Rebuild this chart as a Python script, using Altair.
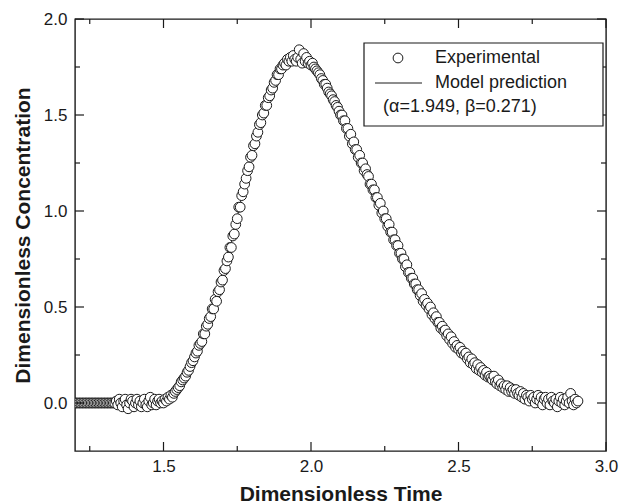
import altair as alt
import pandas as pd

# ---------------- data ----------------
time = [
    1.200,
    1.205, 1.210, 1.215, 1.220, 1.225, 1.230, 1.235, 1.240, 1.245, 1.250, 1.255, 1.260, 1.265, 1.270, 1.275, 1.280, 1.285, 1.290, 1.295, 1.300,
    1.305, 1.310, 1.315, 1.320, 1.325, 1.330, 1.335, 1.340, 1.345, 1.350, 1.355, 1.360, 1.365, 1.370, 1.375, 1.380, 1.385, 1.390, 1.395, 1.400,
    1.405, 1.410, 1.415, 1.420, 1.425, 1.430, 1.435, 1.440, 1.445, 1.450, 1.455, 1.460, 1.465, 1.470, 1.475, 1.480, 1.485, 1.490, 1.495, 1.500,
    1.505, 1.510, 1.515, 1.520, 1.525, 1.530, 1.535, 1.540, 1.545, 1.550, 1.555, 1.560, 1.565, 1.570, 1.575, 1.580, 1.585, 1.590, 1.595, 1.600,
    1.605, 1.610, 1.615, 1.620, 1.625, 1.630, 1.635, 1.640, 1.645, 1.650, 1.655, 1.660, 1.665, 1.670, 1.675, 1.680, 1.685, 1.690, 1.695, 1.700,
    1.705, 1.710, 1.715, 1.720, 1.725, 1.730, 1.735, 1.740, 1.745, 1.750, 1.755, 1.760, 1.765, 1.770, 1.775, 1.780, 1.785, 1.790, 1.795, 1.800,
    1.805, 1.810, 1.815, 1.820, 1.825, 1.830, 1.835, 1.840, 1.845, 1.850, 1.855, 1.860, 1.865, 1.870, 1.875, 1.880, 1.885, 1.890, 1.895, 1.900,
    1.905, 1.910, 1.915, 1.920, 1.925, 1.930, 1.935, 1.940, 1.945, 1.950, 1.955, 1.960, 1.965, 1.970, 1.975, 1.980, 1.985, 1.990, 1.995, 2.000,
    2.005, 2.010, 2.015, 2.020, 2.025, 2.030, 2.035, 2.040, 2.045, 2.050, 2.055, 2.060, 2.065, 2.070, 2.075, 2.080, 2.085, 2.090, 2.095, 2.100,
    2.105, 2.110, 2.115, 2.120, 2.125, 2.130, 2.135, 2.140, 2.145, 2.150, 2.155, 2.160, 2.165, 2.170, 2.175, 2.180, 2.185, 2.190, 2.195, 2.200,
    2.205, 2.210, 2.215, 2.220, 2.225, 2.230, 2.235, 2.240, 2.245, 2.250, 2.255, 2.260, 2.265, 2.270, 2.275, 2.280, 2.285, 2.290, 2.295, 2.300,
    2.305, 2.310, 2.315, 2.320, 2.325, 2.330, 2.335, 2.340, 2.345, 2.350, 2.355, 2.360, 2.365, 2.370, 2.375, 2.380, 2.385, 2.390, 2.395, 2.400,
    2.405, 2.410, 2.415, 2.420, 2.425, 2.430, 2.435, 2.440, 2.445, 2.450, 2.455, 2.460, 2.465, 2.470, 2.475, 2.480, 2.485, 2.490, 2.495, 2.500,
    2.505, 2.510, 2.515, 2.520, 2.525, 2.530, 2.535, 2.540, 2.545, 2.550, 2.555, 2.560, 2.565, 2.570, 2.575, 2.580, 2.585, 2.590, 2.595, 2.600,
    2.605, 2.610, 2.615, 2.620, 2.625, 2.630, 2.635, 2.640, 2.645, 2.650, 2.655, 2.660, 2.665, 2.670, 2.675, 2.680, 2.685, 2.690, 2.695, 2.700,
    2.705, 2.710, 2.715, 2.720, 2.725, 2.730, 2.735, 2.740, 2.745, 2.750, 2.755, 2.760, 2.765, 2.770, 2.775, 2.780, 2.785, 2.790, 2.795, 2.800,
    2.805, 2.810, 2.815, 2.820, 2.825, 2.830, 2.835, 2.840, 2.845, 2.850, 2.855, 2.860, 2.865, 2.870, 2.875, 2.880, 2.885, 2.890, 2.895, 2.900,
    2.905,
]

conc = [
    0.00,
    0.00, 0.00, 0.00, 0.00, 0.00, 0.00, 0.00, 0.00, 0.00, 0.00, 0.00, 0.00, 0.00, 0.00, 0.00, 0.00, 0.00, 0.00, 0.00, 0.00,
    0.00, 0.00, 0.00, 0.00, 0.00, 0.00, 0.00, 0.01, -0.01, 0.02, 0.00, -0.02, 0.01, 0.02, -0.01, -0.03, 0.00, 0.02, 0.01, -0.02,
    0.00, 0.02, -0.01, 0.01, -0.02, 0.00, 0.02, -0.01, -0.02, 0.01, 0.03, -0.01, 0.00, 0.02, -0.01, 0.01, 0.02, 0.00, 0.01, 0.00,
    0.02, 0.01, 0.03, 0.02, 0.04, 0.03, 0.05, 0.06, 0.07, 0.08, 0.09, 0.11, 0.12, 0.13, 0.14, 0.16, 0.17, 0.19, 0.21, 0.22,
    0.24, 0.26, 0.27, 0.30, 0.31, 0.32, 0.36, 0.36, 0.40, 0.41, 0.44, 0.45, 0.49, 0.49, 0.54, 0.53, 0.58, 0.59, 0.63, 0.64,
    0.69, 0.70, 0.74, 0.76, 0.81, 0.81, 0.87, 0.88, 0.93, 0.96, 1.02, 1.02, 1.08, 1.10, 1.14, 1.17, 1.21, 1.23, 1.28, 1.29,
    1.34, 1.35, 1.39, 1.41, 1.45, 1.46, 1.50, 1.51, 1.55, 1.55, 1.59, 1.60, 1.63, 1.64, 1.67, 1.68, 1.71, 1.71, 1.74, 1.74,
    1.76, 1.77, 1.76, 1.79, 1.78, 1.80, 1.78, 1.81, 1.79, 1.78, 1.80, 1.84, 1.79, 1.77, 1.82, 1.78, 1.80, 1.77, 1.78, 1.76,
    1.77, 1.75, 1.74, 1.73, 1.72, 1.71, 1.69, 1.68, 1.66, 1.66, 1.64, 1.62, 1.61, 1.60, 1.58, 1.57, 1.55, 1.54, 1.52, 1.50,
    1.50, 1.47, 1.47, 1.43, 1.43, 1.39, 1.40, 1.35, 1.36, 1.32, 1.32, 1.28, 1.29, 1.25, 1.25, 1.21, 1.22, 1.19, 1.18, 1.14,
    1.14, 1.11, 1.11, 1.07, 1.07, 1.03, 1.04, 0.99, 1.00, 0.96, 0.96, 0.92, 0.93, 0.89, 0.89, 0.85, 0.85, 0.82, 0.82, 0.78,
    0.78, 0.75, 0.75, 0.71, 0.72, 0.68, 0.68, 0.65, 0.65, 0.62, 0.62, 0.59, 0.59, 0.56, 0.57, 0.53, 0.54, 0.51, 0.52, 0.49,
    0.50, 0.46, 0.47, 0.44, 0.45, 0.42, 0.42, 0.39, 0.40, 0.375, 0.38, 0.35, 0.36, 0.33, 0.345, 0.31, 0.32, 0.29, 0.30, 0.28,
    0.29, 0.26, 0.27, 0.25, 0.26, 0.23, 0.24, 0.21, 0.23, 0.20, 0.21, 0.18, 0.20, 0.17, 0.185, 0.16, 0.17, 0.145, 0.16, 0.135,
    0.14, 0.13, 0.12, 0.14, 0.11, 0.10, 0.12, 0.09, 0.10, 0.08, 0.09, 0.07, 0.09, 0.06, 0.08, 0.06, 0.07, 0.05, 0.07, 0.05,
    0.04, 0.06, 0.03, 0.05, 0.02, 0.04, 0.03, 0.01, 0.04, 0.02, 0.03, 0.00, 0.02, 0.04, 0.01, 0.03, -0.01, 0.02, 0.03, 0.00,
    0.02, -0.01, 0.03, 0.01, 0.00, 0.02, -0.02, 0.01, 0.03, 0.00, 0.02, -0.01, 0.01, 0.03, 0.00, 0.05, 0.01, -0.01, 0.02, 0.00,
    0.01,
]

model_time = [1.200, 1.250, 1.300, 1.350, 1.400, 1.425, 1.450, 1.475, 1.500, 1.525, 1.550, 1.575,
              1.600, 1.625, 1.650, 1.675, 1.700, 1.725, 1.750, 1.775, 1.800, 1.825, 1.850, 1.875,
              1.900, 1.925, 1.950, 1.975, 2.000, 2.025, 2.050, 2.075, 2.100, 2.125, 2.150, 2.175,
              2.200, 2.225, 2.250, 2.275, 2.300, 2.325, 2.350, 2.375, 2.400, 2.425, 2.450, 2.475,
              2.500, 2.525, 2.550, 2.575, 2.600, 2.625, 2.650, 2.675, 2.700, 2.725, 2.750, 2.775,
              2.800, 2.825, 2.850, 2.875, 2.900]
model_conc = [0.0, 0.0, 0.0, 0.0, 0.002, 0.004, 0.008, 0.015, 0.025, 0.045, 0.08, 0.14,
              0.22, 0.31, 0.41, 0.52, 0.65, 0.80, 0.97, 1.14, 1.30, 1.44, 1.56, 1.66,
              1.74, 1.785, 1.80, 1.795, 1.77, 1.72, 1.66, 1.59, 1.51, 1.42, 1.33, 1.24,
              1.15, 1.06, 0.97, 0.88, 0.79, 0.71, 0.63, 0.56, 0.50, 0.44, 0.385, 0.335,
              0.29, 0.25, 0.21, 0.175, 0.145, 0.118, 0.095, 0.076, 0.060, 0.047, 0.037, 0.029,
              0.022, 0.017, 0.013, 0.010, 0.008]

x_major = [1.5, 2.0, 2.5, 3.0]
x_minor = [1.25, 1.75, 2.25, 2.75]
y_major = [0.0, 0.5, 1.0, 1.5, 2.0]
y_minor = [0.25, 0.75, 1.25, 1.75]
x_domain = [1.2, 3.0]
y_domain = [-0.25, 2.0]

legend_labels = ["Experimental", "Model prediction", "(\u03b1=1.949, \u03b2=0.271)"]
x_title = "Dimensionless Time"
y_title = "Dimensionless Concentration"

assert len(time) == len(conc)
assert len(model_time) == len(model_conc)

# ---------------- chart ----------------
W, H = 531, 432
FONT = "Liberation Sans"
INK = "#1a1a1a"

xscale = alt.Scale(domain=x_domain, nice=False, zero=False)
yscale = alt.Scale(domain=y_domain, nice=False, zero=False)

xaxis = alt.Axis(title=x_title, values=x_major, format=".1f", ticks=False, domain=False, grid=False,
                 labelFont=FONT, labelFontSize=17, labelColor=INK, labelPadding=7, labelFlush=False,
                 labelOverlap=False, titleFont=FONT, titleFontSize=21, titleFontWeight="bold",
                 titleColor=INK, titlePadding=9)
yaxis = alt.Axis(title=y_title, values=y_major, format=".1f", ticks=False, domain=False, grid=False,
                 labelFont=FONT, labelFontSize=17, labelColor=INK, labelPadding=8, labelFlush=False,
                 labelOverlap=False, titleFont=FONT, titleFontSize=21, titleFontWeight="bold",
                 titleColor=INK, titlePadding=10)

exp_df = pd.DataFrame({"t": time, "c": conc})
model_df = pd.DataFrame({"t": model_time, "c": model_conc})

line = alt.Chart(model_df).mark_line(color=INK, strokeWidth=1, clip=True).encode(
    x=alt.X("t:Q", scale=xscale, axis=xaxis),
    y=alt.Y("c:Q", scale=yscale, axis=yaxis),
)

points = alt.Chart(exp_df).mark_point(
    shape="circle", filled=True, fill="white", stroke=INK, strokeWidth=1.0,
    size=95, opacity=1, clip=True
).encode(
    x=alt.X("t:Q", scale=xscale),
    y=alt.Y("c:Q", scale=yscale),
)

MAJ, MIN = 9, 5


def xticks(vals, length, top):
    df = pd.DataFrame({"t": vals})
    if top:
        yy, yy2 = alt.value(0), alt.value(length)
    else:
        yy, yy2 = alt.value(H), alt.value(H - length)
    return alt.Chart(df).mark_rule(color=INK, strokeWidth=1.2).encode(
        x=alt.X("t:Q", scale=xscale), y=yy, y2=yy2)


def yticks(vals, length, right):
    df = pd.DataFrame({"c": vals})
    if right:
        xx, xx2 = alt.value(W), alt.value(W - length)
    else:
        xx, xx2 = alt.value(0), alt.value(length)
    return alt.Chart(df).mark_rule(color=INK, strokeWidth=1.2).encode(
        y=alt.Y("c:Q", scale=yscale), x=xx, x2=xx2)


ticks = [
    xticks(x_major, MAJ, False), xticks(x_minor, MIN, False),
    xticks(x_major, MAJ, True), xticks(x_minor, MIN, True),
    yticks(y_major, MAJ, False), yticks(y_minor, MIN, False),
    yticks(y_major, MAJ, True), yticks(y_minor, MIN, True),
]

# ---------------- legend (drawn by hand) ----------------
one = pd.DataFrame({"k": [0]})
leg_box = alt.Chart(one).mark_rect(fill="white", stroke=INK, strokeWidth=1.2).encode(
    x=alt.value(289), x2=alt.value(528), y=alt.value(24), y2=alt.value(107))
leg_pt = alt.Chart(one).mark_point(shape="circle", filled=True, fill="white", stroke=INK,
                                   strokeWidth=1.0, size=95, opacity=1).encode(
    x=alt.value(323), y=alt.value(39))
leg_line = alt.Chart(one).mark_rule(color=INK, strokeWidth=1).encode(
    x=alt.value(300), x2=alt.value(347), y=alt.value(64))


def leg_text(label, x, y):
    return alt.Chart(pd.DataFrame({"label": [label]})).mark_text(
        align="left", baseline="middle", font=FONT, fontSize=18, color=INK
    ).encode(x=alt.value(x), y=alt.value(y), text="label:N")


legend = [leg_box, leg_pt, leg_line,
          leg_text(legend_labels[0], 360, 39),
          leg_text(legend_labels[1], 360, 64),
          leg_text(legend_labels[2], 308, 88)]

chart = alt.layer(line, points, *ticks, *legend).properties(
    width=W, height=H,
    padding={"left": 75, "top": 19, "right": 15, "bottom": 53},
    autosize=alt.AutoSizeParams(type="none"),
    background="white",
).configure_view(stroke=INK, strokeWidth=1.4)

chart.save("out.html", embed_options={"renderer": "svg", "actions": False})
